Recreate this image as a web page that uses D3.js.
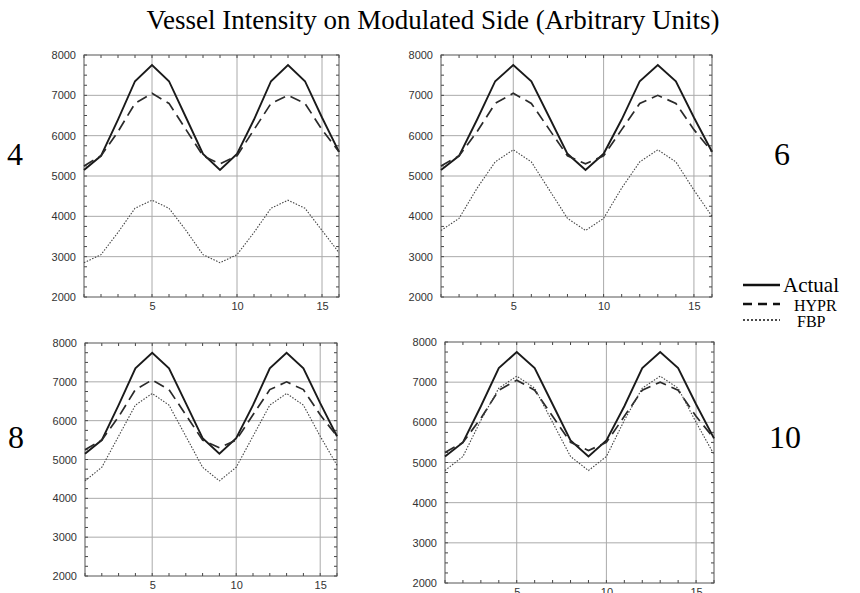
<!DOCTYPE html>
<html>
<head>
  <title>Vessel Intensity on Modulated Side</title>
  <script src="https://d3js.org/d3.v7.min.js"></script>
  <style>
    body { margin: 0; background: #fff; }
    .tick text { font-family: "Liberation Sans", Arial, sans-serif; font-size: 11px; fill: #333; }
  </style>
</head>
<body>
<div id="chart"></div>
<script>
  // frame index 1..16
  const frames = d3.range(1, 17);

  const actual = [5150, 5500, 6400, 7350, 7750, 7350, 6450, 5550, 5150, 5550, 6400, 7350, 7750, 7350, 6450, 5600];
  const hypr   = [5250, 5500, 6100, 6800, 7050, 6800, 6150, 5500, 5300, 5500, 6150, 6800, 7000, 6800, 6150, 5600];

  const fbp4  = [2850, 3050, 3600, 4200, 4400, 4200, 3650, 3050, 2850, 3050, 3600, 4200, 4400, 4200, 3650, 3100];
  const fbp6  = [3650, 3950, 4700, 5350, 5650, 5350, 4650, 3950, 3650, 3950, 4700, 5350, 5650, 5350, 4650, 4000];
  const fbp8  = [4450, 4800, 5600, 6400, 6700, 6400, 5600, 4800, 4450, 4800, 5600, 6400, 6700, 6400, 5600, 4850];
  const fbp10 = [4800, 5150, 6050, 6850, 7150, 6850, 6000, 5150, 4800, 5150, 6050, 6850, 7150, 6850, 6000, 5200];

  const panelLabels = ["4", "6", "8", "10"];
  const xTicks = [5, 10, 15];
  const yTicks = [2000, 3000, 4000, 5000, 6000, 7000, 8000];
  const legendNames = ["Actual", "HYPR", "FBP"];

  const width = 860, height = 593;

  const panels = [
    { label: panelLabels[0], fbp: fbp4,  box: [84, 339, 55, 297],  lx: 7,   ly: 165 },
    { label: panelLabels[1], fbp: fbp6,  box: [441, 712, 55, 297], lx: 774, ly: 165 },
    { label: panelLabels[2], fbp: fbp8,  box: [85, 337, 343, 576], lx: 8,   ly: 448 },
    { label: panelLabels[3], fbp: fbp10, box: [445, 714, 342, 583], lx: 769, ly: 448 }
  ];

  const svg = d3.select("#chart").append("svg")
    .attr("width", width)
    .attr("height", height);

  svg.append("text")
    .attr("x", 433)
    .attr("y", 29)
    .attr("text-anchor", "middle")
    .style("font-family", "'Liberation Serif', 'Times New Roman', serif")
    .style("font-size", "27px")
    .text("Vessel Intensity on Modulated Side (Arbitrary Units)");

  const styles = [
    { w: 1.9, dash: null,  color: "#1a1a1a" },
    { w: 1.7, dash: "11,6", color: "#2a2a2a" },
    { w: 1.1, dash: "1.5,1.5", color: "#444" }
  ];

  panels.forEach(p => {
    const [x0, x1, y0, y1] = p.box;
    const x = d3.scaleLinear().domain([1, 16]).range([x0, x1]);
    const y = d3.scaleLinear().domain([2000, 8000]).range([y1, y0]);
    const g = svg.append("g");

    // grid
    g.selectAll(".gy").data(yTicks.slice(1, -1)).enter().append("line")
      .attr("x1", x0).attr("x2", x1)
      .attr("y1", d => y(d)).attr("y2", d => y(d))
      .attr("stroke", "#aaa").attr("stroke-width", 1);
    g.selectAll(".gx").data(xTicks).enter().append("line")
      .attr("y1", y0).attr("y2", y1)
      .attr("x1", d => x(d)).attr("x2", d => x(d))
      .attr("stroke", "#aaa").attr("stroke-width", 1);

    // minor inward ticks on all sides
    const minorX = d3.range(1, 17);
    const minorY = d3.range(2000, 8001, 250);
    [y0, y1].forEach((yy, i) => {
      g.selectAll(null).data(minorX).enter().append("line")
        .attr("x1", d => x(d)).attr("x2", d => x(d))
        .attr("y1", yy).attr("y2", i === 0 ? yy + 3 : yy - 3)
        .attr("stroke", "#444");
    });
    [x0, x1].forEach((xx, i) => {
      g.selectAll(null).data(minorY).enter().append("line")
        .attr("y1", d => y(d)).attr("y2", d => y(d))
        .attr("x1", xx).attr("x2", i === 0 ? xx + 3 : xx - 3)
        .attr("stroke", "#444");
    });

    // axes (labels only)
    g.append("g")
      .attr("transform", `translate(0,${y1})`)
      .call(d3.axisBottom(x).tickValues(xTicks).tickSize(0).tickPadding(5))
      .call(a => a.select(".domain").remove());
    g.append("g")
      .attr("transform", `translate(${x0},0)`)
      .call(d3.axisLeft(y).tickValues(yTicks).tickSize(0).tickPadding(8).tickFormat(d3.format("d")))
      .call(a => a.select(".domain").remove());

    // frame
    g.append("rect")
      .attr("x", x0).attr("y", y0)
      .attr("width", x1 - x0).attr("height", y1 - y0)
      .attr("fill", "none").attr("stroke", "#555").attr("stroke-width", 1);

    const line = d3.line().x((d, i) => x(frames[i])).y(d => y(d));
    [actual, hypr, p.fbp].forEach((series, k) => {
      g.append("path")
        .datum(series)
        .attr("d", line)
        .attr("fill", "none")
        .attr("stroke", styles[k].color)
        .attr("stroke-width", styles[k].w)
        .attr("stroke-dasharray", styles[k].dash);
    });

    svg.append("text")
      .attr("x", p.lx).attr("y", p.ly)
      .style("font-family", "'Liberation Serif', 'Times New Roman', serif")
      .style("font-size", "32px")
      .text(p.label);
  });

  // legend
  const legend = [
    { name: legendNames[0], y: 285, tx: 783, fs: 21, w: 2.6, dash: null },
    { name: legendNames[1], y: 304, tx: 794, fs: 16, w: 2.6, dash: "9,6" },
    { name: legendNames[2], y: 320, tx: 797, fs: 16, w: 1.4, dash: "2,2" }
  ];
  legend.forEach(l => {
    svg.append("line")
      .attr("x1", 743).attr("x2", 780)
      .attr("y1", l.y).attr("y2", l.y)
      .attr("stroke", "#111")
      .attr("stroke-width", l.w)
      .attr("stroke-dasharray", l.dash);
    svg.append("text")
      .attr("x", l.tx).attr("y", l.y + 7)
      .style("font-family", "'Liberation Serif', 'Times New Roman', serif")
      .style("font-size", l.fs + "px")
      .text(l.name);
  });
</script>
</body>
</html>
